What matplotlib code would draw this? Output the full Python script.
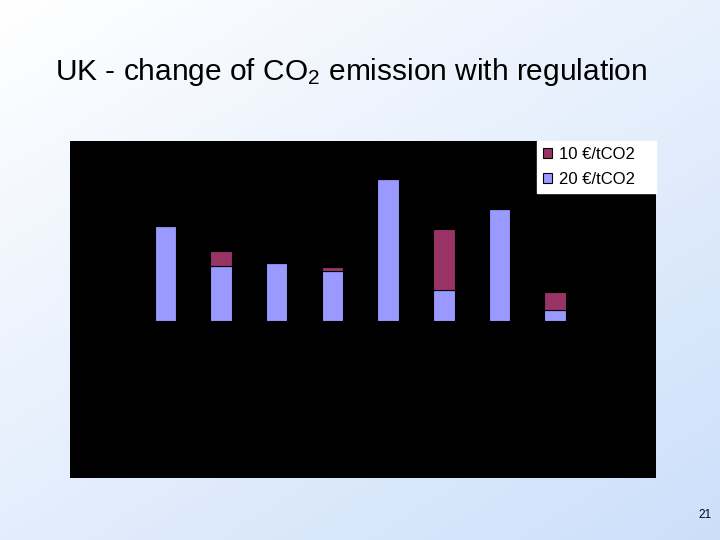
import numpy as np
import matplotlib
matplotlib.use("Agg")
import matplotlib.pyplot as plt
from matplotlib.patches import Patch

plt.rcParams['font.family'] = ['Liberation Sans', 'DejaVu Sans']
plt.rcParams['mathtext.default'] = 'regular'

# Data (relative units)
categories = ['1', '2', '3', '4', '5', '6', '7', '8']
reduction_20 = [95, 55, 58, 50, 142, 31, 112, 11]   # 20 €/tCO2 (light blue)
extra_10 = [0, 15, 0, 4, 0, 61, 0, 18]               # 10 €/tCO2 (maroon, on top)
series_labels = ['10 €/tCO2', '20 €/tCO2']

col_blue = '#9999FF'
col_maroon = '#993366'

fig = plt.figure(figsize=(7.2, 5.4), dpi=100)

# Gradient background
bg = fig.add_axes([0, 0, 1, 1], zorder=-10)
nx, ny = 200, 150
gx = np.linspace(0, 1, nx)[None, :]
gy = np.linspace(0, 1, ny)[:, None]
t = 0.45 * gx + 0.55 * gy
white = np.array([1.0, 1.0, 1.0])
blue = np.array([0.80, 0.875, 0.98])
img = white[None, None, :] * (1 - t[..., None]) + blue[None, None, :] * t[..., None]
bg.imshow(img, aspect='auto', extent=[0, 1, 0, 1], origin='upper')
bg.set_axis_off()

# Chart area
ax = fig.add_axes([70 / 720, (540 - 478) / 540, 586 / 720, 337 / 540])
ax.set_facecolor('black')
x = np.arange(len(categories))
w = 0.386
ax.bar(x, reduction_20, width=w, color=col_blue, edgecolor='black', linewidth=0.8)
ax.bar(x, extra_10, width=w, bottom=reduction_20, color=col_maroon,
       edgecolor='black', linewidth=0.8)
ax.set_xlim(-1.71, 8.81)
ax.set_ylim(-157, 180)
ax.set_xticks([])
ax.set_yticks([])
for s in ax.spines.values():
    s.set_visible(False)

handles = [Patch(facecolor=col_maroon, edgecolor='black', linewidth=0.8),
           Patch(facecolor=col_blue, edgecolor='black', linewidth=0.8)]
leg = ax.legend(handles, series_labels, loc='upper left',
                bbox_to_anchor=(0.797, 0.843, 0.203, 0.157), mode='expand',
                borderaxespad=0, frameon=True, fancybox=False, fontsize=12,
                handlelength=0.55, handleheight=0.55, handletextpad=0.4,
                labelspacing=0.6, borderpad=0.35)
leg.get_frame().set_facecolor('white')
leg.get_frame().set_edgecolor('white')
leg.get_frame().set_alpha(1)

fig.text(351 / 720, 1 - 72 / 540, 'UK - change of CO$_2$ emission with regulation',
         ha='center', va='center', fontsize=21.5, color='black')
fig.text(705 / 720, 1 - 515 / 540, '21', ha='center', va='center', fontsize=8.5,
         color='#000033')

fig.savefig('out.png', dpi=100)
